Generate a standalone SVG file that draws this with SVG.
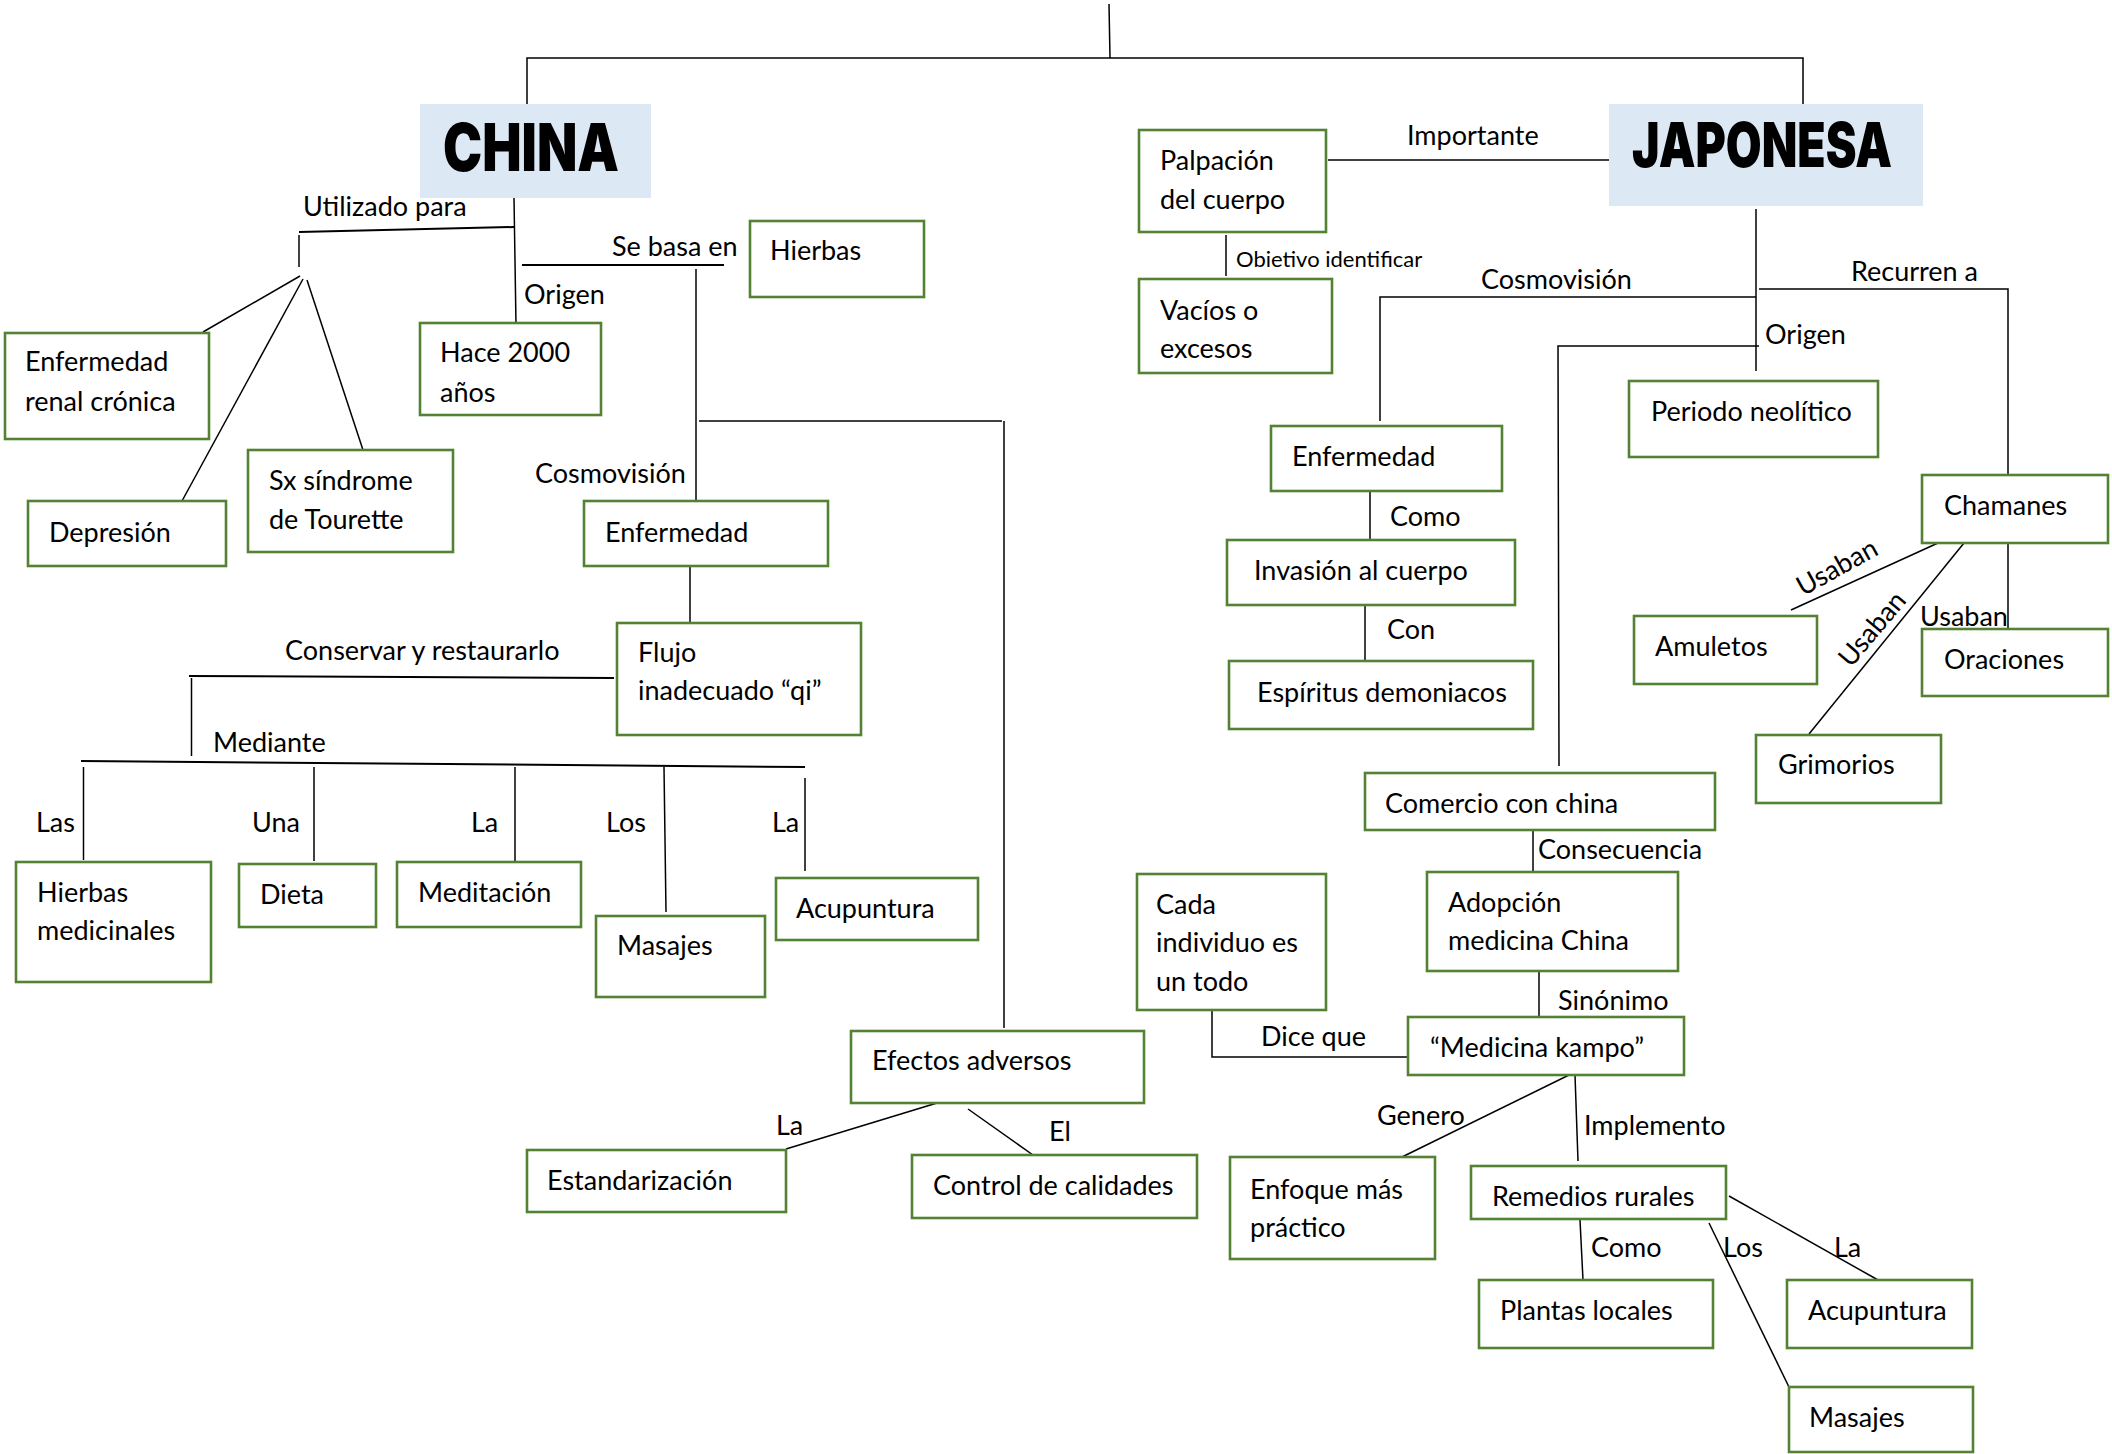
<svg xmlns="http://www.w3.org/2000/svg" width="2112" height="1454" viewBox="0 0 2112 1454">
<style>
.box{fill:#fff;stroke:#548235;stroke-width:2.6}
.tb{fill:#dde8f5;stroke:none}
.t{font-family:Lato,"Open Sans","Liberation Sans",sans-serif;font-size:27px;fill:#000;transform:translate(0px,1.5px)}
.s{font-size:22px}
.title{font-family:Inter,Roboto,"DejaVu Sans",sans-serif;font-weight:900;fill:#000}
.c{stroke:#000;stroke-width:1.5;fill:none}
.c2{stroke:#000;stroke-width:2;fill:none}
</style>
<rect width="2112" height="1454" fill="#fff"/>
<g id="connectors">
<line class="c" x1="1109" y1="4" x2="1110" y2="58"/>
<polyline class="c" points="527,115 527,58 1803,58 1803,104"/>
<line class="c" x1="1328" y1="160" x2="1609" y2="160"/>
<line class="c" x1="1226" y1="235" x2="1226" y2="276"/>
<line class="c" x1="1756" y1="209" x2="1756" y2="371"/>
<polyline class="c" points="1756,297 1380,297 1380,421"/>
<polyline class="c" points="1759,289 2008,289 2008,475"/>
<polyline class="c" points="1759,346 1558,346 1559,766"/>
<line class="c" x1="1370" y1="492" x2="1370" y2="542"/>
<line class="c" x1="1365" y1="605" x2="1365" y2="661"/>
<line class="c" x1="1938" y1="543" x2="1791" y2="610"/>
<line class="c" x1="1964" y1="543" x2="1809" y2="734"/>
<line class="c" x1="2008" y1="543" x2="2008" y2="629"/>
<line class="c" x1="1533" y1="829" x2="1533" y2="874"/>
<line class="c" x1="1539" y1="971" x2="1539" y2="1017"/>
<polyline class="c" points="1212,1010 1212,1057 1408,1057"/>
<line class="c" x1="1569" y1="1075" x2="1402" y2="1157"/>
<line class="c" x1="1575" y1="1075" x2="1578" y2="1161"/>
<line class="c" x1="1580" y1="1220" x2="1583" y2="1280"/>
<line class="c" x1="1709" y1="1223" x2="1789" y2="1387"/>
<line class="c" x1="1729" y1="1196" x2="1878" y2="1280"/>
<line class="c" x1="514" y1="198" x2="516" y2="325"/>
<line class="c2" x1="514" y1="227" x2="299" y2="232"/>
<line class="c" x1="299" y1="235" x2="299" y2="267"/>
<line class="c" x1="300" y1="276" x2="203" y2="332"/>
<line class="c" x1="303" y1="279" x2="182" y2="501"/>
<line class="c" x1="307" y1="280" x2="363" y2="450"/>
<line class="c2" x1="522" y1="265" x2="724" y2="265"/>
<line class="c" x1="696" y1="269" x2="696" y2="501"/>
<line class="c" x1="699" y1="421" x2="1002" y2="421"/>
<line class="c" x1="1004" y1="421" x2="1004" y2="1028"/>
<line class="c" x1="690" y1="566" x2="690" y2="625"/>
<line class="c2" x1="614" y1="678" x2="189" y2="676"/>
<line class="c" x1="191.5" y1="678" x2="191.5" y2="756"/>
<line class="c2" x1="81" y1="761" x2="805" y2="767"/>
<line class="c" x1="83.5" y1="767" x2="83.5" y2="860"/>
<line class="c" x1="314" y1="767" x2="314" y2="861"/>
<line class="c" x1="515" y1="767" x2="515" y2="862"/>
<line class="c" x1="664" y1="767" x2="666" y2="912"/>
<line class="c" x1="805" y1="778" x2="805" y2="871"/>
<line class="c" x1="937" y1="1103" x2="786" y2="1149"/>
<line class="c" x1="968" y1="1109" x2="1033" y2="1155"/>
</g>
<g id="labels" class="t">
<text x="1407" y="143">Importante</text>
<text class="s" x="1236" y="265">Obietivo identificar</text>
<text x="1481" y="287">Cosmovisión</text>
<text x="1851" y="279">Recurren a</text>
<text x="1765" y="342">Origen</text>
<text x="1390" y="524">Como</text>
<text x="1387" y="637">Con</text>
<text transform="translate(1803,595) rotate(-29)">Usaban</text>
<text transform="translate(1851,667) rotate(-50)">Usaban</text>
<text x="1920" y="624">Usaban</text>
<text x="1538" y="857">Consecuencia</text>
<text x="1558" y="1008">Sinónimo</text>
<text x="1261" y="1044">Dice que</text>
<text x="1377" y="1123">Genero</text>
<text x="1584" y="1133">Implemento</text>
<text x="1591" y="1255">Como</text>
<text x="1723" y="1255">Los</text>
<text x="1834" y="1255">La</text>
<text x="303" y="214">Utilizado para</text>
<text x="524" y="302">Origen</text>
<text x="612" y="254">Se basa en</text>
<text x="535" y="481">Cosmovisión</text>
<text x="285" y="658">Conservar y restaurarlo</text>
<text x="213" y="750">Mediante</text>
<text x="36" y="830">Las</text>
<text x="252" y="830">Una</text>
<text x="471" y="830">La</text>
<text x="606" y="830">Los</text>
<text x="772" y="830">La</text>
<text x="776" y="1133">La</text>
<text x="1049" y="1139">El</text>
</g>
<g id="china"><rect class="tb" x="420" y="104" width="231" height="94"/><text class="title" x="443" y="171" font-size="66" textLength="176" lengthAdjust="spacingAndGlyphs">CHINA</text></g>
<g id="japonesa"><rect class="tb" x="1609" y="104" width="314" height="102"/><text class="title" x="1632" y="166.5" font-size="62" textLength="260" lengthAdjust="spacingAndGlyphs">JAPONESA</text></g>
<g id="palpacion"><rect class="box" x="1139" y="130" width="187" height="102"/><text class="t" x="1160" y="168">Palpación</text><text class="t" x="1160" y="207">del cuerpo</text></g>
<g id="vacios"><rect class="box" x="1139" y="279" width="193" height="94"/><text class="t" x="1160" y="318">Vacíos o</text><text class="t" x="1160" y="356">excesos</text></g>
<g id="periodo"><rect class="box" x="1629" y="381" width="249" height="76"/><text class="t" x="1651" y="419">Periodo neolítico</text></g>
<g id="enfermedad-j"><rect class="box" x="1271" y="426" width="231" height="65"/><text class="t" x="1292" y="464">Enfermedad</text></g>
<g id="invasion"><rect class="box" x="1227" y="540" width="288" height="65"/><text class="t" x="1254" y="578">Invasión al cuerpo</text></g>
<g id="espiritus"><rect class="box" x="1229" y="661" width="304" height="68"/><text class="t" x="1257" y="700">Espíritus demoniacos</text></g>
<g id="chamanes"><rect class="box" x="1922" y="475" width="186" height="68"/><text class="t" x="1944" y="513">Chamanes</text></g>
<g id="amuletos"><rect class="box" x="1634" y="616" width="183" height="68"/><text class="t" x="1655" y="654">Amuletos</text></g>
<g id="oraciones"><rect class="box" x="1922" y="629" width="186" height="67"/><text class="t" x="1944" y="667">Oraciones</text></g>
<g id="grimorios"><rect class="box" x="1756" y="735" width="185" height="68"/><text class="t" x="1778" y="772">Grimorios</text></g>
<g id="comercio"><rect class="box" x="1365" y="773" width="350" height="57"/><text class="t" x="1385" y="811">Comercio con china</text></g>
<g id="adopcion"><rect class="box" x="1427" y="872" width="251" height="99"/><text class="t" x="1448" y="910">Adopción</text><text class="t" x="1448" y="948">medicina China</text></g>
<g id="cada"><rect class="box" x="1137" y="874" width="189" height="136"/><text class="t" x="1156" y="912">Cada</text><text class="t" x="1156" y="950">individuo es</text><text class="t" x="1156" y="989">un todo</text></g>
<g id="kampo"><rect class="box" x="1408" y="1017" width="276" height="58"/><text class="t" x="1430" y="1055">“Medicina kampo”</text></g>
<g id="enfoque"><rect class="box" x="1230" y="1157" width="205" height="102"/><text class="t" x="1250" y="1197">Enfoque más</text><text class="t" x="1250" y="1235">práctico</text></g>
<g id="remedios"><rect class="box" x="1471" y="1166" width="255" height="53"/><text class="t" x="1492" y="1204">Remedios rurales</text></g>
<g id="plantas"><rect class="box" x="1479" y="1280" width="234" height="68"/><text class="t" x="1500" y="1318">Plantas locales</text></g>
<g id="acupuntura-j"><rect class="box" x="1787" y="1280" width="185" height="68"/><text class="t" x="1808" y="1318">Acupuntura</text></g>
<g id="masajes-j"><rect class="box" x="1789" y="1387" width="184" height="65"/><text class="t" x="1809" y="1425">Masajes</text></g>
<g id="efectos"><rect class="box" x="851" y="1031" width="293" height="72"/><text class="t" x="872" y="1068">Efectos adversos</text></g>
<g id="estandarizacion"><rect class="box" x="527" y="1150" width="259" height="62"/><text class="t" x="547" y="1188">Estandarización</text></g>
<g id="control"><rect class="box" x="912" y="1155" width="285" height="63"/><text class="t" x="933" y="1193">Control de calidades</text></g>
<g id="enf-renal"><rect class="box" x="5" y="333" width="204" height="106"/><text class="t" x="25" y="369">Enfermedad</text><text class="t" x="25" y="409">renal crónica</text></g>
<g id="depresion"><rect class="box" x="28" y="501" width="198" height="65"/><text class="t" x="49" y="540">Depresión</text></g>
<g id="sx"><rect class="box" x="248" y="450" width="205" height="102"/><text class="t" x="269" y="488">Sx síndrome</text><text class="t" x="269" y="527">de Tourette</text></g>
<g id="hace"><rect class="box" x="420" y="323" width="181" height="92"/><text class="t" x="440" y="360">Hace 2000</text><text class="t" x="440" y="400">años</text></g>
<g id="hierbas"><rect class="box" x="750" y="221" width="174" height="76"/><text class="t" x="770" y="258">Hierbas</text></g>
<g id="enfermedad-c"><rect class="box" x="584" y="501" width="244" height="65"/><text class="t" x="605" y="540">Enfermedad</text></g>
<g id="flujo"><rect class="box" x="617" y="623" width="244" height="112"/><text class="t" x="638" y="660">Flujo</text><text class="t" x="638" y="698">inadecuado “qi”</text></g>
<g id="hierbas-med"><rect class="box" x="16" y="862" width="195" height="120"/><text class="t" x="37" y="900">Hierbas</text><text class="t" x="37" y="938">medicinales</text></g>
<g id="dieta"><rect class="box" x="239" y="864" width="137" height="63"/><text class="t" x="260" y="902">Dieta</text></g>
<g id="meditacion"><rect class="box" x="397" y="862" width="184" height="65"/><text class="t" x="418" y="900">Meditación</text></g>
<g id="masajes-c"><rect class="box" x="596" y="916" width="169" height="81"/><text class="t" x="617" y="953">Masajes</text></g>
<g id="acupuntura-c"><rect class="box" x="776" y="878" width="202" height="62"/><text class="t" x="796" y="916">Acupuntura</text></g>
</svg>
